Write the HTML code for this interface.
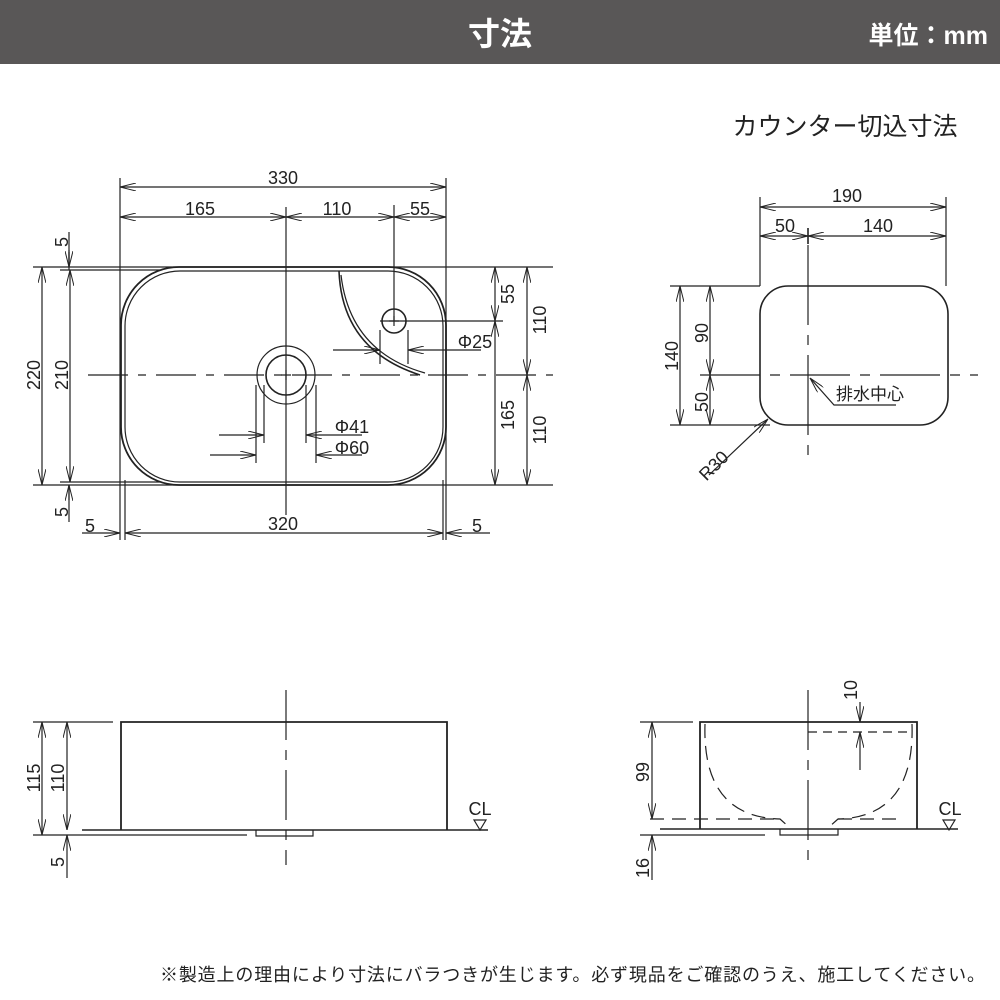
<!DOCTYPE html>
<html><head><meta charset="utf-8"><style>
html,body{margin:0;padding:0;background:#fff;}
svg{display:block;}
text{font-family:"Liberation Sans","Noto Sans CJK JP",sans-serif;fill:#222;}
</style></head><body>
<svg width="1000" height="1000" viewBox="0 0 1000 1000" xmlns="http://www.w3.org/2000/svg">
<defs>
<marker id="a" viewBox="0 0 16 8" refX="16" refY="4" markerWidth="16" markerHeight="8" markerUnits="userSpaceOnUse" orient="auto-start-reverse">
<path d="M0,0 L16,4 L0,8" fill="none" stroke="#222" stroke-width="1"/>
</marker>
</defs>
<rect x="0" y="0" width="1000" height="64" fill="#595757"/>
<text x="500" y="45" text-anchor="middle" font-size="32" font-weight="bold" style="fill:#fff">寸法</text>
<text x="988" y="44" text-anchor="end" font-size="25" font-weight="bold" style="fill:#fff">単位：mm</text>
<text x="845" y="135" text-anchor="middle" font-size="25">カウンター切込寸法</text>

<g stroke="#222" fill="none" stroke-width="1.2">
<rect x="121" y="267" width="325" height="218" rx="58" stroke-width="1.8"/>
<rect x="125" y="271" width="318" height="211" rx="55"/>
<circle cx="286" cy="375" r="29"/>
<circle cx="286" cy="375" r="20" stroke-width="1.6"/>
<circle cx="394" cy="321" r="12" stroke-width="1.6"/>
<path d="M339,271 Q342,350 420,375" stroke-width="1.6"/>
<path d="M341,275 Q350,352 425,373"/>
<path d="M281,375 h10 M286,370 v10 M389,321 h10 M394,316 v10"/>
<path d="M88,375 H553" stroke-dasharray="40,10,8,10"/>
<path d="M286,207 V515"/>
<path d="M394,205 V321"/>
<path d="M120,178 V540 M446,178 V540 M125,480 V540 M443,480 V540"/>
<path d="M33,267 H553 M33,485 H553 M60,270 H160 M60,482 H160 M380,321 H503"/>
<path d="M69,232 V267 M69,485 V522"/>
<path d="M120,187 H446" marker-start="url(#a)" marker-end="url(#a)"/>
<path d="M120,217 H286" marker-start="url(#a)" marker-end="url(#a)"/>
<path d="M286,217 H394" marker-start="url(#a)" marker-end="url(#a)"/>
<path d="M394,217 H446" marker-start="url(#a)" marker-end="url(#a)"/>
<path d="M42,267 V485" marker-start="url(#a)" marker-end="url(#a)"/>
<path d="M70,270 V482" marker-start="url(#a)" marker-end="url(#a)"/>
<path d="M69,250 V267" marker-end="url(#a)"/>
<path d="M69,252 V270"/>
<path d="M69,500 V485" marker-end="url(#a)"/>
<path d="M495,267 V321" marker-start="url(#a)" marker-end="url(#a)"/>
<path d="M495,321 V485" marker-start="url(#a)" marker-end="url(#a)"/>
<path d="M527,267 V375" marker-start="url(#a)" marker-end="url(#a)"/>
<path d="M527,375 V485" marker-start="url(#a)" marker-end="url(#a)"/>
<path d="M125,533 H443" marker-start="url(#a)" marker-end="url(#a)"/>
<path d="M82,533 H120" marker-end="url(#a)"/>
<path d="M490,533 H446" marker-end="url(#a)"/>
<path d="M380,330 V364 M408,330 V364"/>
<path d="M333,350 H380" marker-end="url(#a)"/>
<path d="M481,350 H408" marker-end="url(#a)"/>
<path d="M264,385 V443 M306,385 V443 M256,385 V463 M316,385 V463"/>
<path d="M219,435 H264" marker-end="url(#a)"/>
<path d="M362,435 H306" marker-end="url(#a)"/>
<path d="M210,455 H256" marker-end="url(#a)"/>
<path d="M362,455 H316" marker-end="url(#a)"/>

<rect x="760" y="286" width="188" height="139" rx="28" stroke-width="1.6"/>
<path d="M700,375 H978" stroke-dasharray="60,10,10,10"/>
<path d="M808,245 V455" stroke-dasharray="80,10,10,10"/>
<path d="M760,197 V286 M946,197 V286"/>
<path d="M670,286 H760 M670,425 H770"/>
<path d="M760,207 H946" marker-start="url(#a)" marker-end="url(#a)"/>
<path d="M760,236 H808" marker-start="url(#a)" marker-end="url(#a)"/>
<path d="M808,236 H946" marker-start="url(#a)" marker-end="url(#a)"/>
<path d="M808,228 V244" stroke-width="1.6"/>
<path d="M680,286 V425" marker-start="url(#a)" marker-end="url(#a)"/>
<path d="M710,286 V375" marker-start="url(#a)" marker-end="url(#a)"/>
<path d="M710,375 V425" marker-start="url(#a)" marker-end="url(#a)"/>
<path d="M896,405 H834 L810,378" marker-end="url(#a)"/>
<path d="M709,475 L768,419" marker-end="url(#a)"/>

<path d="M121,830 V722 H447 V830" stroke-width="1.8"/>
<path d="M82,830 H488" stroke-width="1.6"/>
<path d="M33,835 H247"/>
<path d="M256,830 V836 H313 V830"/>
<path d="M286,690 V865" stroke-dasharray="50,10,10,10"/>
<path d="M33,722 H113"/>
<path d="M42,722 V835" marker-start="url(#a)" marker-end="url(#a)"/>
<path d="M67,722 V830" marker-start="url(#a)" marker-end="url(#a)"/>
<path d="M67,850 V835" marker-end="url(#a)"/>
<path d="M67,850 V878"/>
<path d="M474,820 h12 l-6,10 z"/>

<path d="M700,829 V722 H917 V829" stroke-width="1.8"/>
<path d="M660,829 H958" stroke-width="1.6"/>
<path d="M640,835 H765"/>
<path d="M780,829 V835 H838 V829"/>
<path d="M705,724 Q702,817 780,819 L790,828 M912,724 Q915,817 838,819 L828,828" stroke-dasharray="14,8"/>
<path d="M650,819 H780 M838,819 H900" stroke-dasharray="14,8"/>
<path d="M808,732 H912" stroke-dasharray="9,6"/>
<path d="M808,690 V865" stroke-dasharray="60,10,10,10"/>
<path d="M640,722 H693"/>
<path d="M652,722 V819" marker-start="url(#a)" marker-end="url(#a)"/>
<path d="M652,850 V835" marker-end="url(#a)"/>
<path d="M652,850 V880"/>
<path d="M860,702 V722" marker-end="url(#a)"/>
<path d="M860,770 V732" marker-end="url(#a)"/>
<path d="M943,820 h12 l-6,10 z"/>
</g>

<g font-size="18">
<text x="283" y="184" text-anchor="middle">330</text>
<text x="200" y="215" text-anchor="middle">165</text>
<text x="337" y="215" text-anchor="middle">110</text>
<text x="420" y="215" text-anchor="middle">55</text>
<text transform="translate(40,375) rotate(-90)" text-anchor="middle">220</text>
<text transform="translate(68,375) rotate(-90)" text-anchor="middle">210</text>
<text transform="translate(68,242) rotate(-90)" text-anchor="middle">5</text>
<text transform="translate(68,512) rotate(-90)" text-anchor="middle">5</text>
<text transform="translate(514,294) rotate(-90)" text-anchor="middle">55</text>
<text transform="translate(514,415) rotate(-90)" text-anchor="middle">165</text>
<text transform="translate(546,320) rotate(-90)" text-anchor="middle">110</text>
<text transform="translate(546,430) rotate(-90)" text-anchor="middle">110</text>
<text x="283" y="530" text-anchor="middle">320</text>
<text x="90" y="532" text-anchor="middle">5</text>
<text x="477" y="532" text-anchor="middle">5</text>
<text x="475" y="348" text-anchor="middle">Φ25</text>
<text x="352" y="433" text-anchor="middle">Φ41</text>
<text x="352" y="454" text-anchor="middle">Φ60</text>

<text x="847" y="202" text-anchor="middle">190</text>
<text x="785" y="232" text-anchor="middle">50</text>
<text x="878" y="232" text-anchor="middle">140</text>
<text transform="translate(678,356) rotate(-90)" text-anchor="middle">140</text>
<text transform="translate(708,333) rotate(-90)" text-anchor="middle">90</text>
<text transform="translate(708,402) rotate(-90)" text-anchor="middle">50</text>
<text x="836" y="400" font-size="17">排水中心</text>
<text transform="translate(718,470) rotate(-45)" text-anchor="middle">R30</text>

<text transform="translate(40,778) rotate(-90)" text-anchor="middle">115</text>
<text transform="translate(64,778) rotate(-90)" text-anchor="middle">110</text>
<text transform="translate(64,862) rotate(-90)" text-anchor="middle">5</text>
<text x="480" y="815" text-anchor="middle">CL</text>

<text transform="translate(649,772) rotate(-90)" text-anchor="middle">99</text>
<text transform="translate(649,868) rotate(-90)" text-anchor="middle">16</text>
<text transform="translate(857,690) rotate(-90)" text-anchor="middle">10</text>
<text x="950" y="815" text-anchor="middle">CL</text>
</g>
<text x="160" y="981" font-size="18" textLength="825" lengthAdjust="spacing">※製造上の理由により寸法にバラつきが生じます。必ず現品をご確認のうえ、施工してください。</text>
</svg>
</body></html>
